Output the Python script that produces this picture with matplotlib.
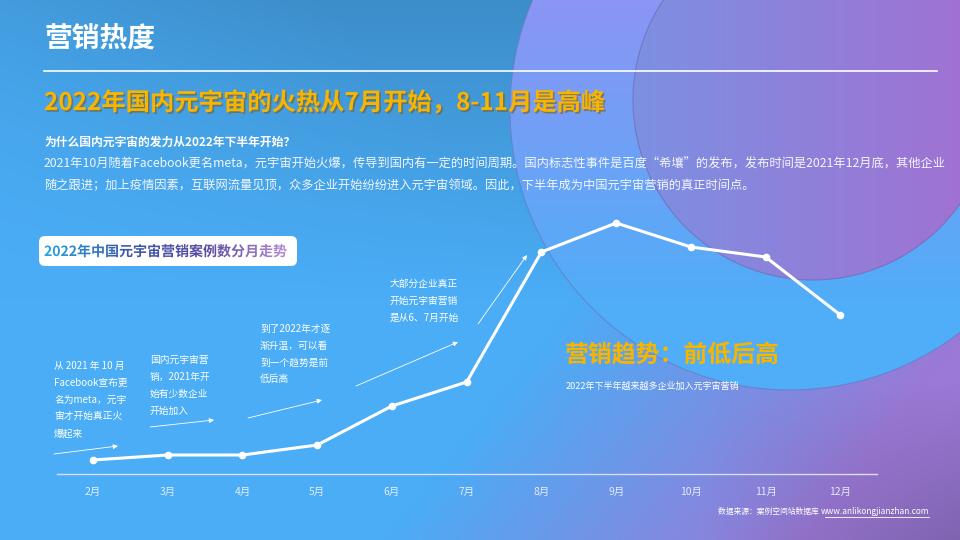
import numpy as np
import matplotlib
matplotlib.use('Agg')
import matplotlib.pyplot as plt
import matplotlib.patheffects as pe
from matplotlib.patches import Circle, FancyBboxPatch, PathPatch
from matplotlib.textpath import TextPath
from matplotlib.font_manager import FontProperties
from matplotlib.transforms import Affine2D
from matplotlib.colors import to_rgb

plt.rcParams['font.family'] = ['Noto Sans CJK SC', 'DejaVu Sans']

# 数据
months = ['2月', '3月', '4月', '5月', '6月', '7月', '8月', '9月', '10月', '11月', '12月']
cases = [14, 19, 19, 29, 68, 92, 222, 251, 227, 217, 159]

page_title = '营销热度'
headline = '2022年国内元宇宙的火热从7月开始，8-11月是高峰'
question = '为什么国内元宇宙的发力从2022年下半年开始？'
para = ['2021年10月随着Facebook更名meta，元宇宙开始火爆，传导到国内有一定的时间周期。国内标志性事件是百度“希壤”的发布，发布时间是2021年12月底，其他企业',
        '随之跟进；加上疫情因素，互联网流量见顶，众多企业开始纷纷进入元宇宙领域。因此，下半年成为中国元宇宙营销的真正时间点。']
chart_title = '2022年中国元宇宙营销案例数分月走势'
notes = ['从 2021 年 10 月\nFacebook宣布更\n名为meta，元宇\n宙才开始真正火\n爆起来',
         '国内元宇宙营\n销，2021年开\n始有少数企业\n开始加入',
         '到了2022年才逐\n渐升温，可以看\n到一个趋势是前\n低后高',
         '大部分企业真正\n开始元宇宙营销\n是从6、7月开始']
trend = '营销趋势：前低后高'
trend_sub = '2022年下半年越来越多企业加入元宇宙营销'
source = '数据来源：案例空间站数据库 '
url = 'www.anlikongjianzhan.com'

W, H = 960, 540
fig = plt.figure(figsize=(9.6, 5.4), dpi=100)
bg = fig.add_axes([0, 0, 1, 1])
bg.set_xlim(0, W)
bg.set_ylim(H, 0)
bg.axis('off')


def mix(c1, c2, t):
    c1 = np.array(to_rgb(c1))
    c2 = np.array(to_rgb(c2))
    t = np.clip(t, 0, 1)[..., None]
    return c1 * (1 - t) + c2 * t


# background gradient
yy, xx = np.mgrid[0:H:2, 0:W:2]
t = (xx - 380 + (yy - 540) * 0.8) / 420
img = mix('#4aadf6', '#9b79d6', t)
dark = np.clip((xx + 380 - yy) / 700, 0, 1) * np.clip(1 - yy / 300, 0, 1)
img = img * (1 - 0.18 * dark[..., None])
br = np.clip((xx - 700) / 260, 0, 1) * np.clip((yy - 380) / 160, 0, 1)
img = img * (1 - 0.18 * br[..., None])
bg.imshow(img, extent=(0, W, H, 0), aspect='auto', zorder=0)

# outer circle
c_out = Circle((790, 110), 280, transform=bg.transData, facecolor='none',
               edgecolor='#6a78c0', lw=0.8, alpha=0.7, zorder=2)
bg.add_patch(c_out)
ty = np.clip(yy / 300, 0, 1)
img2 = mix('#8b95f4', '#50adf8', ty)
im2 = bg.imshow(img2, extent=(0, W, H, 0), aspect='auto', zorder=1)
im2.set_clip_path(Circle((790, 110), 280, transform=bg.transData))

# inner circle
c_in = Circle((813, 100), 180, transform=bg.transData, facecolor='none',
              edgecolor='#7468b0', lw=0.8, alpha=0.7, zorder=4)
bg.add_patch(c_in)
tx = np.clip((xx - 633) / 330, 0, 1)
img3 = mix('#7c90e2', '#a072d2', tx)
im3 = bg.imshow(img3, extent=(0, W, H, 0), aspect='auto', zorder=3)
im3.set_clip_path(Circle((813, 100), 180, transform=bg.transData))

# header
bg.text(44, 40, page_title, color='white', fontsize=20, fontweight='bold', va='center', ha='left', zorder=10)
bg.plot([44, 937], [71, 71], color='white', lw=1.2, zorder=10)
bg.text(44, 103, headline, color='#f7b500', fontsize=17.5, fontweight='bold', va='center', ha='left', zorder=10,
        path_effects=[pe.withSimplePatchShadow(offset=(1.2, -1.2), shadow_rgbFace='#7a5a20', alpha=0.6)])
bg.text(44, 142, question, color='white', fontsize=8.5, fontweight='bold', va='center', ha='left', zorder=10)
bg.text(44, 164, para[0], color='#f4f6ff', fontsize=8.8, va='center', ha='left', zorder=10)
bg.text(44, 186, para[1], color='#f4f6ff', fontsize=8.8, va='center', ha='left', zorder=10)

# chart title box with gradient text
box = FancyBboxPatch((39, 236), 258, 30, boxstyle='round,pad=0,rounding_size=6',
                     facecolor='white', edgecolor='none', transform=bg.transData, zorder=10)
bg.add_patch(box)
tp = TextPath((0, 0), chart_title, size=14,
              prop=FontProperties(family=['Noto Sans CJK SC', 'DejaVu Sans'], weight='bold'))
tr = Affine2D().scale(1, -1).translate(44, 256) + bg.transData
gx = np.linspace(0, 1, 300)[None, :].repeat(4, axis=0)
stops = ['#25a6e2', '#3a5aa8', '#5a4aa0', '#b890d8']
k = gx * (len(stops) - 1)
seg = np.minimum(k.astype(int), len(stops) - 2)
f = k - seg
grad = np.zeros(gx.shape + (3,))
for i in range(len(stops) - 1):
    m = seg == i
    grad[m] = mix(stops[i], stops[i + 1], f[m])
gim = bg.imshow(grad, extent=(44, 290, 266, 236), aspect='auto', zorder=11)
gim.set_clip_path(PathPatch(tp, transform=tr))

# notes and arrows
note_pos = [(54, 366), (150, 360), (260, 329), (390, 284)]
for (x, y), s in zip(note_pos, notes):
    bg.text(x, y - 5, s, color='white', fontsize=7, va='top', ha='left', linespacing=1.85, zorder=10)

arrows = [((54, 454), (118, 446)), ((150, 427), (214, 420)), ((248, 418), (322, 400)),
          ((356, 386), (458, 342)), ((478, 324), (527, 255))]
for a, b in arrows:
    bg.annotate('', xy=b, xytext=a, xycoords='data',
                arrowprops=dict(arrowstyle='-|>', color='white', lw=0.6, mutation_scale=7,
                                shrinkA=0, shrinkB=0), zorder=10)

bg.text(565, 355, trend, color='#f7b500', fontsize=17.2, fontweight='bold', va='center', ha='left', zorder=10)
bg.text(566, 386, trend_sub, color='white', fontsize=6.5, va='center', ha='left', zorder=10)

src = bg.text(929, 512, url, color='white', fontsize=6, va='center', ha='right', zorder=10)
bg.plot([825, 929], [517, 517], color='white', lw=0.6, zorder=10)
bg.annotate(source, xy=(0, 0.5), xycoords=src, va='center', ha='right', color='white', fontsize=5.6, zorder=10)

# line chart
ax = fig.add_axes([57 / W, (H - 474) / H, (877 - 57) / W, 260 / H])
ax.patch.set_alpha(0)
x = np.arange(len(months))
ax.plot(x, cases, color='white', lw=2.2, marker='o', ms=4.5, mfc='white', mec='white', zorder=5)
ax.set_xlim(-0.482, 10.49)
ax.set_ylim(0, 260)
ax.set_xticks(x)
ax.set_xticklabels(months, color='#e4ebff', fontsize=7.5)
ax.tick_params(axis='x', length=0, pad=9)
ax.set_yticks([])
for s in ['top', 'left', 'right']:
    ax.spines[s].set_visible(False)
ax.spines['bottom'].set_color('#d8def5')
ax.spines['bottom'].set_linewidth(1)

fig.savefig('out.png', dpi=100)
